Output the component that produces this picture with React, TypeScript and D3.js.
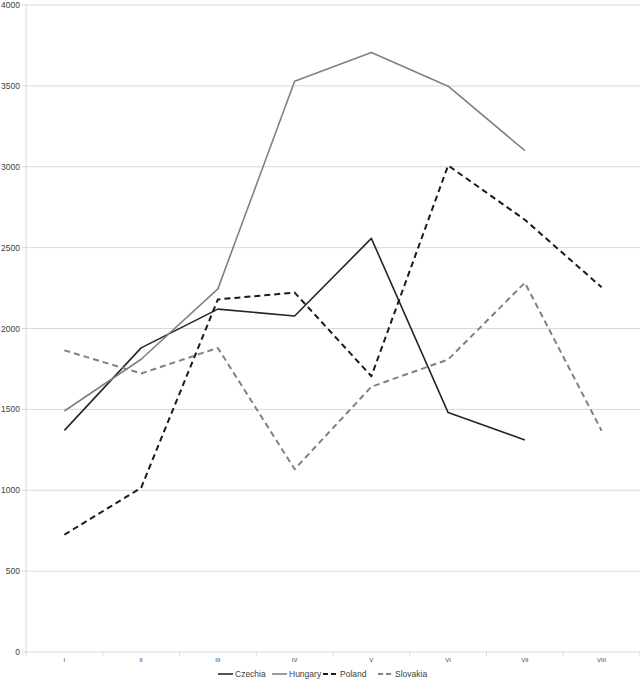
import React from "react";
import * as d3 from "d3";

const categories = ["I", "II", "III", "IV", "V", "VI", "VII", "VIII"];
const czechia = [1370, 1880, 2120, 2077, 2557, 1480, 1311, null];
const hungary = [1490, 1810, 2245, 3528, 3707, 3498, 3100, null];
const poland = [725, 1015, 2180, 2222, 1705, 3008, 2672, 2255];
const slovakia = [1865, 1722, 1880, 1130, 1640, 1808, 2283, 1368];
const yTicks = [0, 500, 1000, 1500, 2000, 2500, 3000, 3500, 4000];

const seriesNames = ["Czechia", "Hungary", "Poland", "Slovakia"];
const seriesValues = [czechia, hungary, poland, slovakia];
const seriesStyle = [
  { color: "#262626", width: 1.6, dash: "" },
  { color: "#808080", width: 1.6, dash: "" },
  { color: "#1a1a1a", width: 2, dash: "6,4" },
  { color: "#808080", width: 2, dash: "6,4" },
];

export default function App() {
  const W = 640, H = 680;
  const left = 26, right = 640, top = 5, bottom = 652;
  const x = d3.scaleBand<string>().domain(categories).range([left, right]);
  const y = d3.scaleLinear().domain([0, 4000]).range([bottom, top]);
  const line = d3
    .line<number | null>()
    .defined((d) => d != null)
    .x((_, i) => (x(categories[i]) as number) + x.bandwidth() / 2)
    .y((d) => y(d as number));

  const legendX = [218, 272, 323, 378];
  const legendY = 674;

  return (
    <svg
      width={W}
      height={H}
      style={{ position: "absolute", left: 0, top: 0, fontFamily: "Liberation Sans, Arial, sans-serif" }}
    >
      <rect x={0} y={0} width={W} height={H} fill="#fff" />
      {yTicks.map((t) => (
        <g key={t}>
          <line x1={left} x2={right} y1={y(t)} y2={y(t)} stroke="#d9d9d9" strokeWidth={1} />
          <line x1={left - 4} x2={left} y1={y(t)} y2={y(t)} stroke="#d9d9d9" strokeWidth={1} />
          <text x={20} y={y(t) + 3} fontSize={8.5} textAnchor="end" fill="#404040">
            {t}
          </text>
        </g>
      ))}
      <line x1={left} x2={left} y1={top} y2={bottom} stroke="#d9d9d9" strokeWidth={1} />
      {categories.map((c, i) => (
        <g key={c}>
          <line
            x1={(x(c) as number) + x.bandwidth()}
            x2={(x(c) as number) + x.bandwidth()}
            y1={bottom}
            y2={bottom + 4}
            stroke="#d9d9d9"
          />
          {i === 0 && <line x1={left} x2={left} y1={bottom} y2={bottom + 4} stroke="#d9d9d9" />}
          <text
            x={(x(c) as number) + x.bandwidth() / 2}
            y={bottom + 10}
            fontSize={6}
            textAnchor="middle"
            fill="#404040"
          >
            {c}
          </text>
        </g>
      ))}
      {seriesValues.map((vals, i) => (
        <path
          key={seriesNames[i]}
          d={line(vals) || ""}
          fill="none"
          stroke={seriesStyle[i].color}
          strokeWidth={seriesStyle[i].width}
          strokeDasharray={seriesStyle[i].dash}
          strokeLinejoin="round"
        />
      ))}
      {seriesNames.map((n, i) => (
        <g key={n}>
          <line
            x1={legendX[i]}
            x2={legendX[i] + 15}
            y1={legendY}
            y2={legendY}
            stroke={seriesStyle[i].color}
            strokeWidth={seriesStyle[i].width}
            strokeDasharray={seriesStyle[i].dash ? "5,3" : ""}
          />
          <text x={legendX[i] + 17} y={legendY + 3} fontSize={8.5} fill="#404040">
            {n}
          </text>
        </g>
      ))}
    </svg>
  );
}
